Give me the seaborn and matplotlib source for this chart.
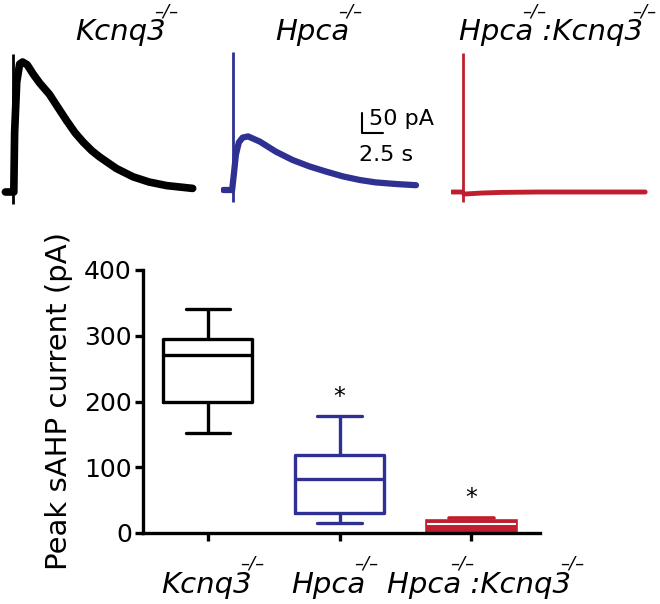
import numpy as np
import pandas as pd
import matplotlib
matplotlib.use("Agg")
import matplotlib.pyplot as plt
import seaborn as sns

sns.set_style("ticks")
plt.rcParams["font.family"] = ["DejaVu Sans"]
for key in ["text.color", "axes.labelcolor", "axes.edgecolor", "xtick.color", "ytick.color"]:
    plt.rcParams[key] = "black"

# genotypes and colours
groups = ["Kcnq3", "Hpca", "Hpca:Kcnq3"]
# label text and the prefixes after which a "–/–" superscript sits
label_main = ["Kcnq3", "Hpca", "Hpca :Kcnq3"]
label_sups = [["Kcnq3"], ["Hpca"], ["Hpca", "Hpca :Kcnq3"]]
sup_text = "–/–"
colors = ["#000000", "#2e3192", "#be1e2d"]

# box stats: min, q1, median, q3, max (pA)
kcnq3_vals = [152, 200, 270, 295, 340]
hpca_vals = [15, 31, 82, 118, 178]
dko_vals = [0, 1, 13, 19, 23]

# example sAHP current traces (time in s, current in pA)
t_kcnq3 = [-0.9, -0.1, 0.1, 0.2, 0.45, 0.8, 1.15, 1.7, 2.4, 3.2, 4.35, 5.4, 6.4,
           7.4, 8.35, 9.4, 10.3, 12.3, 14.3, 16.2, 18.3, 21.4]
i_kcnq3 = [0, 0, 0, 150, 275, 320, 325, 318, 295, 272, 244, 210, 178,
           148, 125, 103, 88, 59, 38, 25, 16, 9]
t_hpca = [-1.15, -0.1, 0.1, 0.35, 0.7, 1.15, 1.8, 3.2, 5.1, 7.1, 9.1, 11.1,
          13.1, 15.1, 17.0, 19.4, 21.8]
i_hpca = [0, 0, 38, 88, 119, 131, 134, 121, 96, 75, 59, 46, 34, 25, 19, 15, 12]
t_dko = [-1.3, -0.1, 0.2, 1.1, 2.3, 4.6, 9.1, 13.7, 18.3, 21.7]
i_dko = [0, 0, -5, -4, -2.5, -1, 0, 0, 0, 0]
traces = [(t_kcnq3, i_kcnq3), (t_hpca, i_hpca), (t_dko, i_dko)]
artifact_top = [344, 346, 348]
artifact_bottom = [-29, -29, -25]
trace_lw = [5.5, 4.5, 3.5]

W, H = 660, 604
fig = plt.figure(figsize=(W / 100, H / 100), dpi=100)
renderer = fig.canvas.get_renderer()


def text_width(s, size):
    t = fig.text(0, 0, s, fontsize=size, style="italic")
    w = t.get_window_extent(renderer).width
    t.remove()
    return w


def genotype(k, x_left, baseline, size=21, sup_size=13, sup_rise=30):
    # italic gene name with "-/-" superscripts tucked over the word ends (pixel coords)
    fig.text(x_left / W, 1 - baseline / H, label_main[k], fontsize=size,
             style="italic", ha="left", va="baseline")
    for pre in label_sups[k]:
        xs = x_left + text_width(pre, size) - 11
        fig.text(xs / W, 1 - (baseline - sup_rise) / H, sup_text, fontsize=sup_size,
                 style="italic", ha="left", va="center")


# --- traces on top ---
trace_left = [1.2, 221.2, 451.2]
trace_bottom = [207, 205, 207]
for k in range(3):
    tax = fig.add_axes([trace_left[k] / W, 1 - trace_bottom[k] / H, 199 / W, 160 / H])
    tax.vlines(0, artifact_bottom[k], artifact_top[k], color=colors[k], lw=2)
    sns.lineplot(x=traces[k][0], y=traces[k][1], ax=tax, color=colors[k],
                 lw=trace_lw[k], estimator=None, sort=False)
    tax.set_xlim(-1.4, 22.3)
    tax.set_ylim(-37.5, 362.5)
    tax.axis("off")
    if k == 1:
        # scale bar 50 pA / 2.5 s
        tax.plot([15.36, 15.36, 17.86], [192.5, 142.5, 142.5], color="black", lw=1.5)
        tax.text(16.2, 177, "50 pA", fontsize=16, va="center", ha="left")
        tax.text(15.0, 87, "2.5 s", fontsize=16, va="center", ha="left")

title_left = [75, 275, 459]
for k in range(3):
    genotype(k, title_left[k], 40, sup_rise=28)

# --- box plot ---
ax = fig.add_axes([143 / W, 1 - 533 / H, 397 / W, 263 / H])
df = pd.DataFrame({"group": np.repeat(groups, 5),
                   "current": kcnq3_vals + hpca_vals + dko_vals})
for k, g in enumerate(groups):
    sub = df[df["group"] == g]
    if k < 2:
        sns.boxplot(data=sub, x="group", y="current", order=groups, color=colors[k],
                    fill=False, width=0.67, whis=np.inf, linewidth=2.4,
                    saturation=1, ax=ax)
    else:
        sns.boxplot(data=sub, x="group", y="current", order=groups, color=colors[k],
                    linecolor=colors[k], fill=True, width=0.67, whis=np.inf,
                    linewidth=2.6, saturation=1, ax=ax,
                    medianprops=dict(color="white", linewidth=1.5))

ax.text(1, 207, "*", ha="center", va="center", fontsize=17)
ax.text(2, 53, "*", ha="center", va="center", fontsize=17)

ax.set_xlim(-0.49, 2.52)
ax.set_ylim(0, 400)
ax.set_yticks([0, 100, 200, 300, 400])
ax.set_xticks(range(3))
ax.set_xticklabels([])
ax.tick_params(axis="y", labelsize=18, length=6, width=2.4, pad=2)
ax.tick_params(axis="x", length=6, width=2.4)
ax.set_xlabel("")
ax.set_ylabel("Peak sAHP current (pA)", fontsize=21, labelpad=8)
sns.despine(ax=ax)
for s in ["left", "bottom"]:
    ax.spines[s].set_linewidth(2.4)

# category labels under the ticks
label_shift = [-1.5, -11, 8]
for k in range(3):
    xpix = ax.transData.transform((k, 0))[0]
    w = text_width(label_main[k], 21)
    genotype(k, xpix + label_shift[k] - w / 2, 593)

fig.savefig("out.png", dpi=100)
